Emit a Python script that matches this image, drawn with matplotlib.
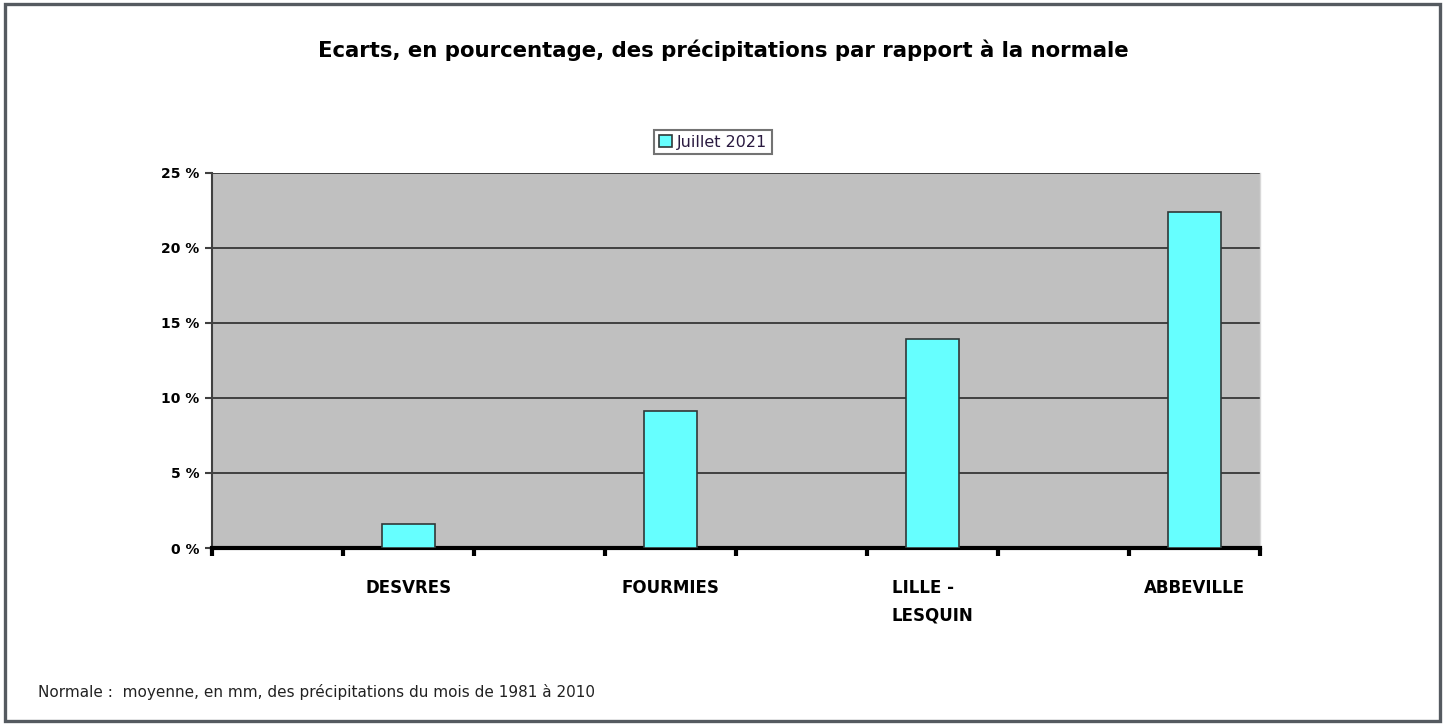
import numpy as np
import matplotlib.pyplot as plt
from matplotlib.patches import Rectangle

# Data
stations = ["DESVRES", "FOURMIES", "LILLE -\nLESQUIN", "ABBEVILLE"]
ecarts = [1.6, 9.1, 13.9, 22.4]
serie = "Juillet 2021"
yticks = [0, 5, 10, 15, 20, 25]

fonts = ['DejaVu Sans']

fig = plt.figure(figsize=(14.46, 7.24), dpi=100)
fig.patch.set_facecolor('white')

# outer frame
fig.patches.append(Rectangle((5 / 1446, 3 / 724), 1435 / 1446, 717 / 724,
                             transform=fig.transFigure, fill=False,
                             edgecolor='#555a60', linewidth=2.4))

ax = fig.add_axes([212 / 1446, 1 - 548 / 724, 1048 / 1446, 375 / 724])
ax.set_facecolor('#c0c0c0')

x = np.arange(len(stations))
ax.bar(x, ecarts, width=0.2, color='#66ffff', edgecolor='#303838',
       linewidth=1.2, zorder=3, label=serie)

ax.set_xlim(-0.75, 3.25)
ax.set_ylim(0, 25)

# gridlines
ax.set_yticks(yticks)
ax.set_yticklabels([f"{v} %" for v in yticks], fontsize=10, fontweight='bold',
                   family=fonts)
ax.yaxis.grid(True, color='#404040', linewidth=1.4, zorder=1)
ax.set_axisbelow(True)
ax.tick_params(axis='y', length=5, width=1.5, color='#404040', pad=4)

# category ticks between slots
ax.set_xticks(np.arange(-0.75, 3.26, 0.5))
ax.set_xticklabels([])
ax.tick_params(axis='x', which='major', length=6, width=3, color='black',
               direction='out')
ax.set_xticks(x, minor=True)
ax.set_xticklabels(stations, minor=True, fontsize=12, fontweight='bold',
                   family=fonts, linespacing=1.7, va='top', ha='center')
ax.tick_params(axis='x', which='minor', length=0, pad=22)
for lbl in ax.get_xticklabels(minor=True):
    lbl.set_multialignment('left')

ax.spines['bottom'].set_linewidth(3)
ax.spines['bottom'].set_color('black')
ax.spines['left'].set_color('#404040')
ax.spines['left'].set_linewidth(1.5)
ax.spines['top'].set_visible(False)
ax.spines['right'].set_color('#d8d8d8')
ax.spines['right'].set_linewidth(1)

fig.text(0.5, 1 - 50 / 724, "Ecarts, en pourcentage, des précipitations par rapport à la normale",
         ha='center', va='center', fontsize=15.3, fontweight='bold', family=fonts)

leg = ax.legend(loc='center', bbox_to_anchor=(713 / 1446, (724 - 142) / 724),
                bbox_transform=fig.transFigure, frameon=True,
                fancybox=False, edgecolor='#505050', handlelength=0.8,
                handleheight=0.8, handletextpad=0.3, borderpad=0.3,
                prop={'family': fonts, 'size': 11.5})
leg.get_frame().set_linewidth(1.5)
for t in leg.get_texts():
    t.set_color('#2a1a40')

fig.text(38 / 1446, 1 - 692 / 724,
         "Normale :  moyenne, en mm, des précipitations du mois de 1981 à 2010",
         ha='left', va='center', fontsize=11, family=fonts, color='#222222')

plt.savefig('out.png', dpi=100)
